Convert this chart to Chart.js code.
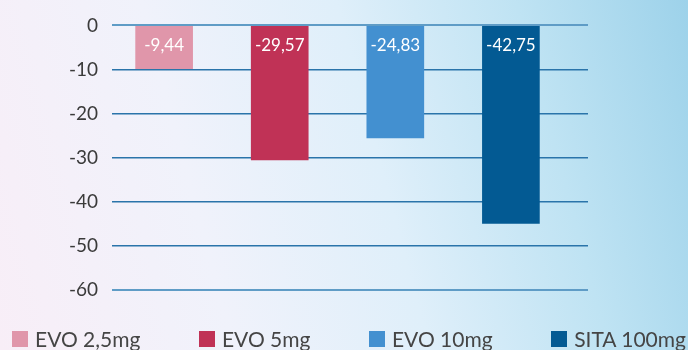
<!DOCTYPE html>
<html>
<head>
<meta charset="utf-8">
<script src="https://cdn.jsdelivr.net/npm/chart.js@4"></script>
<style>
    html, body {
        margin: 0;
        padding: 0;
        width: 688px;
        height: 350px;
        overflow: hidden;
    }
    body {
        position: relative;
        background: linear-gradient(75deg, #f8eef7 0%, #f0f2fb 30%, #dfeffa 55%, #bfe3f3 78%, #9dd2ea 100%);
        font-family: Lato, "Open Sans", sans-serif;
    }
    #wrap {
        position: absolute;
        left: 0;
        top: 0;
        width: 688px;
        height: 350px;
    }
    #legend {
        position: absolute;
        left: 12px;
        top: 326px;
        width: 674px;
        height: 25px;
        display: flex;
        justify-content: space-between;
        align-items: center;
    }
    .item {
        display: flex;
        align-items: center;
        font-size: 21px;
        line-height: 25px;
        color: #454545;
        white-space: nowrap;
    }
    .box {
        width: 16px;
        height: 16px;
        margin-right: 7px;
    }
</style>
</head>
<body>
<div id="wrap"><canvas id="chart" width="688" height="350"></canvas></div>
<div id="legend"></div>
<script>
    // Data
    const groups = ['EVO 2,5mg', 'EVO 5mg', 'EVO 10mg', 'SITA 100mg'];
    const barValues = [-9.8, -30.5, -25.5, -44.9];
    const valueLabels = ['-9,44', '-29,57', '-24,83', '-42,75'];
    const barColors = ['#e096aa', '#c03256', '#4390d0', '#035a93'];
    const yTicks = [0, -10, -20, -30, -40, -50, -60];

    // White value text at the top of each bar
    const valueLabelPlugin = {
        id: 'valueLabels',
        afterDatasetsDraw(chart) {
            const ctx = chart.ctx;
            ctx.save();
            ctx.fillStyle = '#ffffff';
            ctx.font = '17px Lato, "Open Sans", sans-serif';
            ctx.textAlign = 'center';
            ctx.textBaseline = 'middle';
            chart.data.datasets.forEach(function(ds, i) {
                const bar = chart.getDatasetMeta(i).data[0];
                const top = Math.min(bar.y, bar.base);
                ctx.fillText(valueLabels[i], bar.x, top + 19);
            });
            ctx.restore();
        }
    };

    const chart = new Chart(document.getElementById('chart'), {
        type: 'bar',
        data: {
            datasets: groups.map(function(name, i) {
                return {
                    label: name,
                    data: [{ x: i + 1, y: barValues[i] }],
                    backgroundColor: barColors[i],
                    borderWidth: 0,
                    grouped: false,
                    barThickness: 57
                };
            })
        },
        options: {
            responsive: false,
            animation: false,
            layout: {
                padding: { left: 0, right: 100, top: 23, bottom: 60 }
            },
            scales: {
                x: {
                    type: 'linear',
                    min: 0.549,
                    max: 4.667,
                    offset: false,
                    display: false
                },
                y: {
                    min: -60,
                    max: 0,
                    afterFit: function(scale) { scale.width = 112; },
                    afterBuildTicks: function(scale) {
                        scale.ticks = yTicks.map(function(v) { return { value: v }; });
                    },
                    border: { display: false },
                    grid: {
                        drawTicks: false,
                        color: function(c) {
                            return (c.tick && (c.tick.value === 0 || c.tick.value === -60)) ? '#5f9cc6' : '#2a74aa';
                        },
                        lineWidth: function(c) {
                            return (c.tick && (c.tick.value === 0 || c.tick.value === -60)) ? 2 : 1.5;
                        }
                    },
                    ticks: {
                        padding: 14,
                        color: '#3a3a3a',
                        font: { family: 'Lato, "Open Sans", sans-serif', size: 19 },
                        callback: function(v) { return v; }
                    }
                }
            },
            plugins: {
                legend: { display: false },
                tooltip: { enabled: false }
            }
        },
        plugins: [valueLabelPlugin]
    });

    // HTML legend built from the datasets
    const legendEl = document.getElementById('legend');
    chart.data.datasets.forEach(function(ds) {
        const item = document.createElement('div');
        item.className = 'item';
        const box = document.createElement('span');
        box.className = 'box';
        box.style.background = ds.backgroundColor;
        item.appendChild(box);
        item.appendChild(document.createTextNode(ds.label));
        legendEl.appendChild(item);
    });
</script>
</body>
</html>
